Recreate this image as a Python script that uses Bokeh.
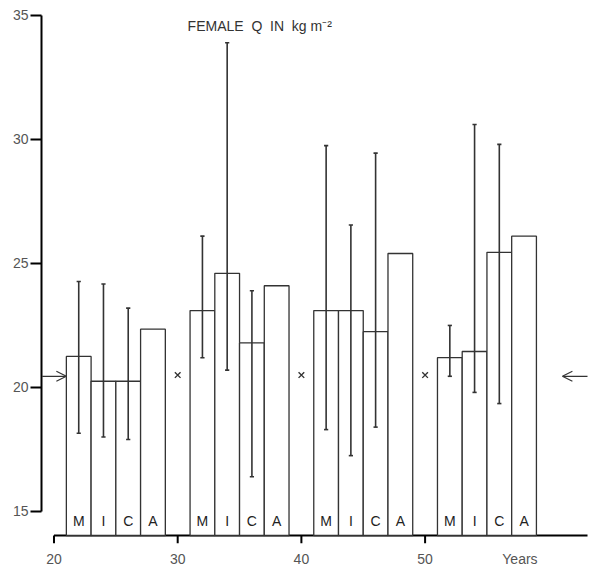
import numpy as np
from bokeh.plotting import figure
from bokeh.models import Range1d, LinearAxis, FixedTicker, Label, Arrow, OpenHead, ColumnDataSource
from bokeh.core.properties import value
from bokeh.embed import file_html
from bokeh.resources import INLINE

# ---- data ----
decades = [20, 30, 40, 50]
methods = ["M", "I", "C", "A"]
means_20 = [21.25, 20.25, 20.25, 22.35]
means_30 = [23.1, 24.6, 21.8, 24.1]
means_40 = [23.1, 23.1, 22.25, 25.4]
means_50 = [21.2, 21.45, 25.45, 26.1]
hi_20 = [24.27, 24.17, 23.2, np.nan]
hi_30 = [26.1, 33.9, 23.9, np.nan]
hi_40 = [29.75, 26.55, 29.45, np.nan]
hi_50 = [22.5, 30.6, 29.8, np.nan]
lo_20 = [18.15, 18.0, 17.9, np.nan]
lo_30 = [21.2, 20.7, 16.4, np.nan]
lo_40 = [18.3, 17.25, 18.4, np.nan]
lo_50 = [20.45, 19.8, 19.35, np.nan]
cross_x = [30, 40, 50]
cross_y = [20.5, 20.5, 20.5]
ref_value = 20.45
y_ticks = [15, 20, 25, 30, 35]
x_ticks = [20, 30, 40, 50]
x_axis_name = "Years"
x_axis_name_pos = 57.67
title_text = "FEMALE\u00a0\u00a0Q\u00a0\u00a0IN\u00a0\u00a0kg\u00a0m\u207b\u00b2"

means = [means_20, means_30, means_40, means_50]
his = [hi_20, hi_30, hi_40, hi_50]
los = [lo_20, lo_30, lo_40, lo_50]

PX_Y = 24.8   # px per unit (y)
PX_X = 12.37  # px per year (x)
BAR_W = 2.0
FRAME_H = 535
Y_AXIS_LINE = 14.03          # level of the x-axis line (bar base)
Y1 = 35.28
Y0 = Y1 - FRAME_H / PX_Y
X0 = 18.99
X1 = X0 + 549 / PX_X
X_AXIS_END = 63.13

left, right, top, letter, lx = [], [], [], [], []
ex, ehi, elo = [], [], []
for d, m, h, l in zip(decades, means, his, los):
    for i, meth in enumerate(methods):
        L = d + 1 + BAR_W * i
        left.append(L); right.append(L + BAR_W); top.append(m[i])
        letter.append(meth); lx.append(L + BAR_W / 2)
        if not np.isnan(h[i]):
            ex.append(L + BAR_W / 2); ehi.append(h[i]); elo.append(l[i])

p = figure(frame_width=549, frame_height=FRAME_H, x_range=Range1d(X0, X1), y_range=Range1d(Y0, Y1),
           output_backend="svg", toolbar_location=None, x_axis_location=None, y_axis_location=None,
           min_border_left=41, min_border_right=0, min_border_top=8, min_border_bottom=24)
p.outline_line_color = None
p.xgrid.visible = False
p.ygrid.visible = False
p.background_fill_color = "white"

TICK_FONT = "Liberation Sans"
yax = LinearAxis(ticker=FixedTicker(ticks=y_ticks), bounds=(15, 35))
yax.axis_line_width = 2
yax.major_tick_line_width = 2
yax.major_tick_out = 11
yax.major_tick_in = 0
yax.minor_tick_out = 0
yax.major_label_standoff = 2
yax.major_label_text_font = TICK_FONT
yax.major_label_text_font_size = "14px"
yax.major_label_text_color = "#555555"
p.add_layout(yax, "left")

# x axis: line and tick marks drawn at the bar base, labels from a real axis below
p.segment(x0=[20], x1=[X_AXIS_END], y0=[Y_AXIS_LINE], y1=[Y_AXIS_LINE], line_color="black", line_width=2)
p.segment(x0=x_ticks, x1=x_ticks, y0=[Y_AXIS_LINE] * len(x_ticks), y1=[Y0] * len(x_ticks),
          line_color="black", line_width=2)

xax = LinearAxis(ticker=FixedTicker(ticks=x_ticks + [x_axis_name_pos]))
xax.major_label_overrides = {x_axis_name_pos: x_axis_name}
xax.axis_line_color = None
xax.major_tick_line_color = None
xax.major_tick_out = 0
xax.major_tick_in = 0
xax.minor_tick_out = 0
xax.major_label_standoff = 7
xax.major_label_text_font = TICK_FONT
xax.major_label_text_font_size = "14px"
xax.major_label_text_color = "#555555"
p.add_layout(xax, "below")

src = ColumnDataSource(dict(left=left, right=right, top=top, bottom=[Y_AXIS_LINE] * len(top)))
p.quad(left="left", right="right", top="top", bottom="bottom", source=src,
       fill_color="white", line_color="#333333", line_width=1.3)

p.segment(x0=ex, x1=ex, y0=elo, y1=ehi, line_color="#333333", line_width=1.6)
cw = 0.17
p.segment(x0=[x - cw for x in ex], x1=[x + cw for x in ex], y0=ehi, y1=ehi, line_color="#333333", line_width=1.6)
p.segment(x0=[x - cw for x in ex], x1=[x + cw for x in ex], y0=elo, y1=elo, line_color="#333333", line_width=1.6)

p.text(x=lx, y=[14.6] * len(lx), text=letter, text_align="center", text_baseline="middle",
       text_font=value("Liberation Sans"), text_font_size="14px", text_color="#222222")

p.scatter(x=cross_x, y=cross_y, marker="x", size=8, line_color="#333333", line_width=1.4)

p.add_layout(Arrow(x_start=X0 + 0.05, y_start=ref_value, x_end=21.0, y_end=ref_value,
                   line_color="#333333", line_width=1.2,
                   end=OpenHead(size=10, line_color="#333333", line_width=1.2)))
p.add_layout(Arrow(x_start=X_AXIS_END, y_start=ref_value, x_end=61.1, y_end=ref_value,
                   line_color="#333333", line_width=1.2,
                   end=OpenHead(size=10, line_color="#333333", line_width=1.2)))

p.add_layout(Label(x=30.8, y=34.57, text=title_text, text_baseline="middle",
                   text_font="Liberation Sans", text_font_size="14px", text_color="#333333"))

open("out.html", "w").write(file_html(p, INLINE))
